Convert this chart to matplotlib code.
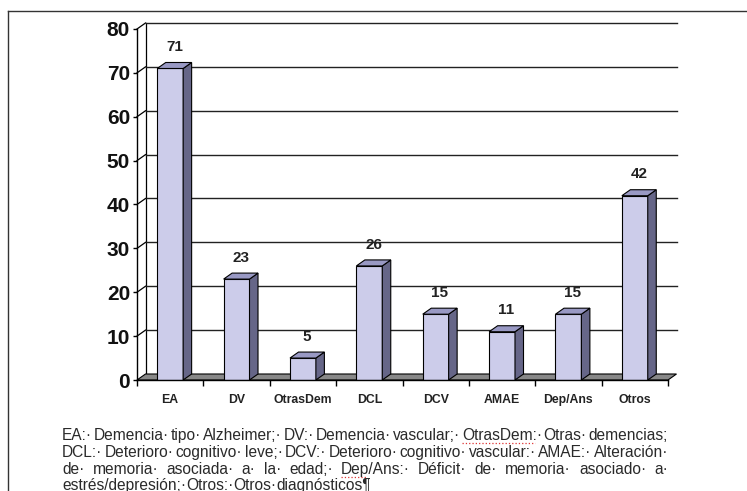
import matplotlib
matplotlib.use("Agg")
import matplotlib.pyplot as plt
from matplotlib.patches import Polygon
from matplotlib.lines import Line2D

plt.rcParams['font.family'] = ['Liberation Sans', 'DejaVu Sans']

# Datos
categorias = ['EA', 'DV', 'OtrasDem', 'DCL', 'DCV', 'AMAE', 'Dep/Ans', 'Otros']
valores = [71, 23, 5, 26, 15, 11, 15, 42]
ticks_y = [0, 10, 20, 30, 40, 50, 60, 70, 80]

leyenda = [
    "EA: Demencia tipo Alzheimer; DV: Demencia vascular; OtrasDem: Otras demencias;",
    "DCL: Deterioro cognitivo leve; DCV: Deterioro cognitivo vascular: AMAE: Alteración",
    "de memoria asociada a la edad; Dep/Ans: Déficit de memoria asociado a",
    "estrés/depresión; Otros: Otros diagnósticos¶",
]

W, H = 747, 491
fig = plt.figure(figsize=(W / 100, H / 100), dpi=100)
fig.patch.set_facecolor('white')

# marco
fig.add_artist(Line2D([8 / W, 1], [1 - 11 / H] * 2, color='#333333', lw=1))
fig.add_artist(Line2D([8 / W] * 2, [0, 1 - 11 / H], color='#333333', lw=1))

ax = fig.add_axes([137 / W, 111 / H, 531 / W, 351 / H])
ax.set_xlim(-0.5, len(categorias) - 0.5)
ax.set_ylim(0, 80)
ax.patch.set_visible(False)
for s in ['top', 'right', 'bottom']:
    ax.spines[s].set_visible(False)
ax.spines['left'].set_linewidth(1)

# profundidad 3D en unidades de datos
px_x = 531 / len(categorias)
px_y = 351 / 80
dx = 8.5 / px_x
dy = 6 / px_y
ancho = 0.39
x0, x1 = -0.5, len(categorias) - 0.5

# suelo
ax.add_patch(Polygon([(x0, 0), (x1, 0), (x1 + dx, dy), (x0 + dx, dy)],
                     closed=True, fc='#888888', ec='black', lw=0.8,
                     zorder=1, clip_on=False))

# pared del fondo y rejilla
ax.plot([x0 + dx, x0 + dx], [dy, 80 + dy], color='black', lw=0.9,
        zorder=0.5, clip_on=False)
for t in ticks_y:
    if t == 0:
        continue
    ax.plot([x0 + dx, x1 + dx], [t + dy, t + dy], color='#222222', lw=1,
            zorder=0.5, clip_on=False)
    ax.plot([x0, x0 + dx], [t, t + dy], color='black', lw=0.9,
            zorder=0.5, clip_on=False)

# barras
for i, v in enumerate(valores):
    l, r = i - ancho / 2, i + ancho / 2
    ax.bar(i, v, width=ancho, color='#CCCCEA', edgecolor='black',
           linewidth=0.8, zorder=3)
    ax.add_patch(Polygon([(r, 0), (r + dx, dy), (r + dx, v + dy), (r, v)],
                         closed=True, fc='#666688', ec='black', lw=0.8,
                         zorder=3, clip_on=False))
    ax.add_patch(Polygon([(l, v), (r, v), (r + dx, v + dy), (l + dx, v + dy)],
                         closed=True, fc='#9999C4', ec='black', lw=0.8,
                         zorder=3, clip_on=False))
    ax.text(i + dx / 2, v + dy + 1.9, str(v), ha='center', va='bottom',
            fontsize=11, fontweight='bold', color='#222222')

ax.plot([x0, x1], [0, 0], color='black', lw=1, zorder=4, clip_on=False)

ax.set_yticks(ticks_y)
ax.set_yticklabels([str(t) for t in ticks_y], fontsize=15,
                   fontweight='bold', color='#111111')
ax.tick_params(axis='y', direction='out', length=3, width=1, pad=2)

ax.set_xticks(range(len(categorias)))
ax.set_xticklabels(categorias, fontsize=8.8, fontweight='bold',
                   color='#222222')
ax.set_xticks([k - 0.5 for k in range(len(categorias) + 1)], minor=True)
ax.tick_params(axis='x', which='major', length=0, pad=10)
ax.tick_params(axis='x', which='minor', direction='out', length=4, width=1)

# leyenda justificada
fig.canvas.draw()
ren = fig.canvas.get_renderer()
L, R = 62, 668
bases = [440, 457, 474, 490]
subrayar = {0: 'OtrasDem:', 2: 'Dep/Ans:'}
for n, linea in enumerate(leyenda):
    palabras = linea.split(' ')
    ultima = n == len(leyenda) - 1
    trozos = []
    for k, p in enumerate(palabras):
        if k < len(palabras) - 1 or n in (1, 2):
            p = p + '·'
        trozos.append(fig.text(0, 1 - bases[n] / H, p, fontsize=11.2,
                               color='#2a2a2a', va='baseline', ha='left'))
    anchos = [t.get_window_extent(ren).width for t in trozos]
    if ultima:
        hueco = 0
    else:
        hueco = (R - L - sum(anchos)) / (len(trozos) - 1)
    x = L
    for k, t in enumerate(trozos):
        t.set_x(x / W)
        if n in subrayar and palabras[k] == subrayar[n]:
            fin = x + anchos[k] * (0.92 if n == 0 else 0.38)
            fig.add_artist(Line2D([x / W, fin / W],
                                  [1 - (bases[n] + 3) / H] * 2,
                                  color='#dd3333', lw=0.9, ls=':'))
        x += anchos[k] + hueco

fig.savefig('out.png', dpi=100)
